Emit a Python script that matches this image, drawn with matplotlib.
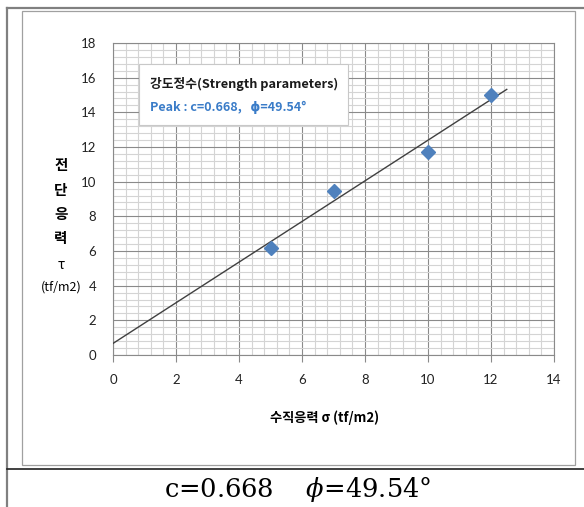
import numpy as np
import matplotlib
matplotlib.use('Agg')
import matplotlib.pyplot as plt
from matplotlib.lines import Line2D
from matplotlib.patches import Rectangle
from matplotlib.ticker import MultipleLocator

# data
sigma = [5, 7, 10, 12]              # normal stress (tf/m2)
tau = [6.2, 9.46, 11.7, 15.02]      # shear stress (tf/m2)
c_val = 0.668
phi_deg = 49.54
fit_x = [0.0, 12.5]
fit_y = [c_val + x * np.tan(np.radians(phi_deg)) for x in fit_x]

x_ticks = [0, 2, 4, 6, 8, 10, 12, 14]
y_ticks = [0, 2, 4, 6, 8, 10, 12, 14, 16, 18]

KR = ['Noto Sans CJK KR', 'DejaVu Sans']
NUM = ['Lato', 'DejaVu Sans']
W, H = 584, 507

plt.rcParams['mathtext.fontset'] = 'dejavuserif'

fig = plt.figure(figsize=(W / 100, H / 100), dpi=100)


def px(x, y):
    return x / W, 1 - y / H


# page frame lines
fig.add_artist(Line2D([7 / W, 7 / W], [0, 1 - 8 / H], color='#808080', lw=1.6, transform=fig.transFigure))
fig.add_artist(Line2D([7 / W, 1], [1 - 8 / H, 1 - 8 / H], color='#808080', lw=1.6, transform=fig.transFigure))
fig.add_artist(Line2D([7 / W, 1], [1 - 469 / H, 1 - 469 / H], color='#202020', lw=1.2, transform=fig.transFigure))
fig.add_artist(Rectangle(px(22, 465), 553 / W, 454 / H, fill=False, edgecolor='#a0a0a0', lw=0.9,
                         transform=fig.transFigure))

ax = fig.add_axes([113 / W, 1 - 355 / H, 441 / W, 312 / H])
ax.set_xlim(0, 14)
ax.set_ylim(0, 18)
ax.set_xticks(x_ticks)
ax.set_yticks(y_ticks)
ax.xaxis.set_minor_locator(MultipleLocator(0.4))
ax.yaxis.set_minor_locator(MultipleLocator(0.4))
ax.grid(which='minor', color='#d4d4d4', lw=0.8)
ax.grid(which='major', color='#8a8a8a', lw=0.8)
ax.set_axisbelow(True)
for s in ax.spines.values():
    s.set_color('#8a8a8a')
    s.set_linewidth(0.8)
ax.tick_params(axis='x', which='major', direction='out', length=5, color='#8a8a8a', pad=9)
ax.tick_params(axis='y', which='major', length=0, pad=12)
ax.tick_params(which='minor', length=0)
for lab in ax.get_xticklabels() + ax.get_yticklabels():
    lab.set_family(NUM)
    lab.set_fontsize(9.5)
    lab.set_color('#222222')

ax.plot(fit_x, fit_y, color='#404040', lw=1.0, zorder=3)
ax.plot(sigma, tau, linestyle='none', marker='D', markersize=7, color='#4F81BD', zorder=4)

# parameter box
ax.add_patch(Rectangle((0.059, 0.737), 0.474, 0.196, transform=ax.transAxes, facecolor='white',
                       edgecolor='#c8c8c8', lw=0.8, zorder=5))
ax.text(0.084, 0.869, '강도정수(Strength parameters)', transform=ax.transAxes, family=KR,
        fontsize=9.2, fontweight='bold', color='#1a1a1a', va='center', zorder=6)
ax.text(0.084, 0.792, 'Peak : c=%.3f,   ϕ=%.2f°' % (c_val, phi_deg), transform=ax.transAxes, family=KR,
        fontsize=9, fontweight='bold', color='#3a7cc8', va='center', zorder=6)

# axis titles
for ch, yy in zip('전단응력', [165, 190, 214, 238]):
    fig.text(*px(61, yy), ch, family=KR, fontsize=10.5, fontweight='bold', ha='center', va='center')
fig.text(*px(61, 265), 'τ', family=KR, fontsize=10, ha='center', va='center')
fig.text(*px(61, 287), '(tf/m2)', family=KR, fontsize=9, ha='center', va='center')
fig.text(*px(325, 418), '수직응력 σ (tf/m2)', family=KR, fontsize=9.5, fontweight='bold',
         ha='center', va='center')

# summary line under chart
fig.text(*px(298, 489), 'c=%.3f    $\\phi$=%.2f°' % (c_val, phi_deg), family='DejaVu Serif',
         fontsize=18.5, ha='center', va='center')

fig.savefig('out.png', dpi=100)
